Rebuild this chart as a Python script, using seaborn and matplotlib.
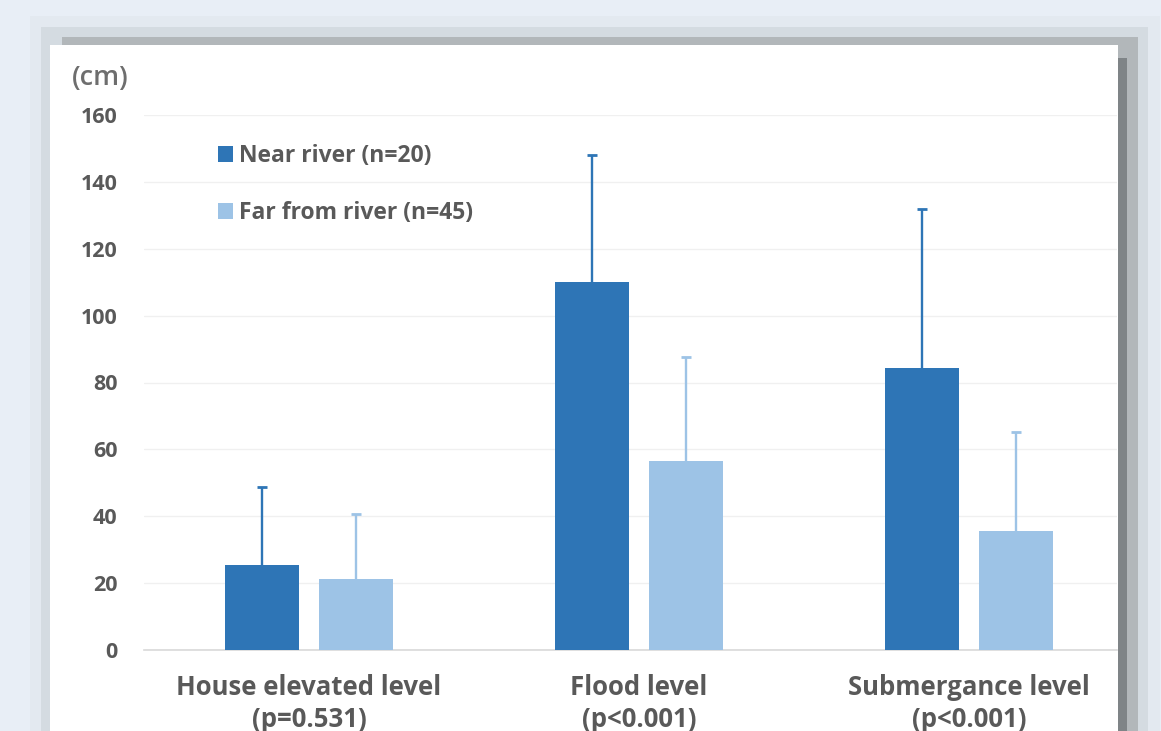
import matplotlib
matplotlib.use("Agg")
import matplotlib.pyplot as plt
from matplotlib.patches import Rectangle
import pandas as pd
import seaborn as sns

# ---- data ----
categories = ["House elevated level\n(p=0.531)", "Flood level\n(p<0.001)", "Submergance level\n(p<0.001)"]
groups = ["Near river (n=20)", "Far from river (n=45)"]
near_mean = [25.4, 110.0, 84.3]
near_sd = [23.3, 38.0, 47.6]
far_mean = [21.2, 56.5, 35.6]
far_sd = [19.5, 31.1, 29.6]
y_ticks = [0, 20, 40, 60, 80, 100, 120, 140, 160]

df = pd.DataFrame({
    "category": categories * 2,
    "group": [groups[0]] * 3 + [groups[1]] * 3,
    "mean": near_mean + far_mean,
    "sd": near_sd + far_sd,
})

dark = "#2e75b6"
light = "#9dc3e6"
text_grey = "#595959"

sns.set_theme(style="white")
plt.rcParams["font.family"] = ["Open Sans", "DejaVu Sans"]

W, H = 1161, 731
fig = plt.figure(figsize=(W / 100, H / 100), dpi=100, facecolor="#e8eef6")


def px_rect(x0, y0, x1, y1, color, z):
    fig.patches.append(Rectangle((x0 / W, 1 - y1 / H), (x1 - x0) / W, (y1 - y0) / H,
                                 transform=fig.transFigure, facecolor=color,
                                 edgecolor="none", zorder=z))


# card with drop shadow
px_rect(30, 16, 1160, 740, "#e3e9f0", 0)
px_rect(41, 27, 1148, 740, "#d4dbe1", 1)
px_rect(62, 37, 1138, 740, "#b2b7ba", 2)
px_rect(1118, 58, 1127, 740, "#7f8487", 3)
px_rect(50, 45, 1118, 740, "#ffffff", 4)

ax_left, ax_right, ax_bottom, ax_top = 144, 1117, 650, 115
ax = fig.add_axes([ax_left / W, 1 - ax_bottom / H, (ax_right - ax_left) / W,
                   (ax_bottom - ax_top) / H])
ax.set_facecolor("none")
ax.set_zorder(5)

sns.barplot(data=df, x="category", y="mean", hue="group", hue_order=groups,
            palette=[dark, light], saturation=1, width=0.57, gap=0.21,
            linewidth=0, errorbar=None, ax=ax, legend=True, zorder=3)

# upper error bars (one-sided), placed on the drawn bars
bar_colors = [dark] * 3 + [light] * 3
for patch, m, s, c in zip(ax.patches[:6], df["mean"], df["sd"], bar_colors):
    xc = patch.get_x() + patch.get_width() / 2
    ax.vlines(xc, m, m + s, colors=c, linewidth=1.7, zorder=2)
    ax.plot([xc], [m + s], marker="_", markersize=7, markeredgewidth=2,
            color=c, zorder=2)

ax.set_xlim(-0.5, -0.5 + (ax_right - ax_left) / 330)
ax.set_ylim(0, 160)
ax.set_yticks(y_ticks)
ax.set_yticklabels([str(v) for v in y_ticks])
ax.grid(axis="y", color="#f0f0f0", linewidth=1, zorder=0)
ax.set_axisbelow(True)
for side in ["left", "right", "top"]:
    ax.spines[side].set_visible(False)
ax.spines["bottom"].set_color("#d9d9d9")
ax.spines["bottom"].set_linewidth(1.2)
ax.tick_params(axis="y", length=0, pad=19, labelsize=15.5, labelcolor=text_grey)
ax.tick_params(axis="x", length=0, pad=17, labelsize=18.5, labelcolor=text_grey)
for lab in ax.get_yticklabels() + ax.get_xticklabels():
    lab.set_fontweight("bold")
for lab in ax.get_xticklabels():
    lab.set_linespacing(1.25)
ax.set_xlabel("")
ax.set_ylabel("")

fig.text(72 / W, 1 - 78 / H, "(cm)", color="#6e6e6e", fontsize=19.5,
         fontweight="semibold", ha="left", va="center", zorder=6)

handles, labels = ax.get_legend_handles_labels()
ax.legend(handles, labels, loc="upper left", frameon=False,
          bbox_to_anchor=(218 / W, 1 - 144 / H), bbox_transform=fig.transFigure,
          handlelength=0.66, handleheight=0.66, handletextpad=0.26,
          labelspacing=1.45, borderpad=0, borderaxespad=0,
          prop={"weight": "bold", "size": 16.5})
for t in ax.get_legend().get_texts():
    t.set_color(text_grey)

fig.savefig("out.png", dpi=100, facecolor=fig.get_facecolor())
